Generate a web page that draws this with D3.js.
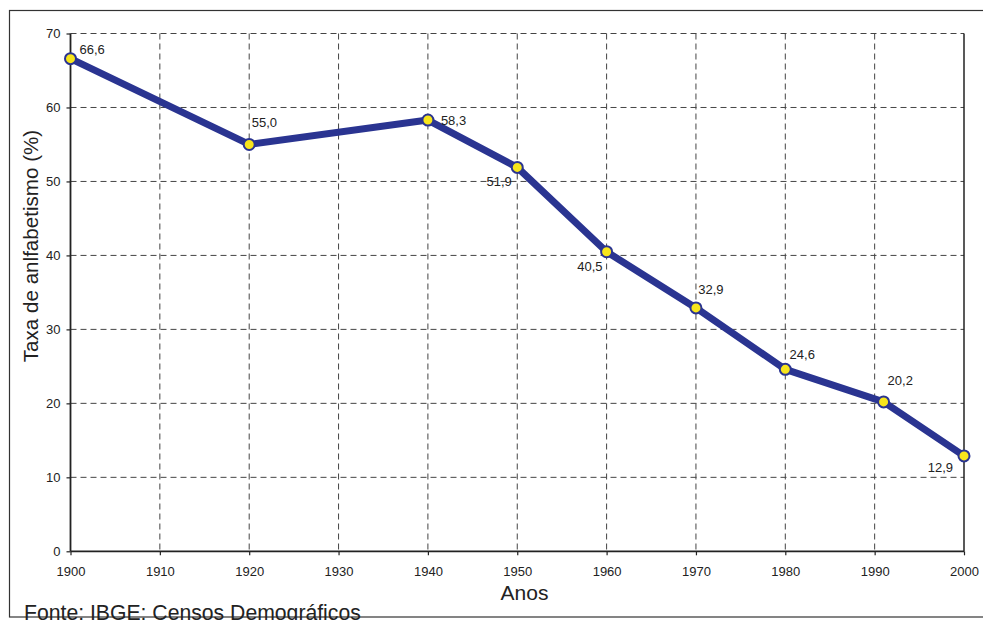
<!DOCTYPE html>
<html><head><meta charset="utf-8">
<script src="https://cdn.jsdelivr.net/npm/d3@7"></script>
<style>body{margin:0;background:#fff;}svg{display:block;font-family:"Liberation Sans",Arial,sans-serif;}</style>
</head><body>
<svg id="c" width="983" height="620"></svg>
<script>
const years = [1900, 1920, 1940, 1950, 1960, 1970, 1980, 1991, 2000];
const values = [66.6, 55.0, 58.3, 51.9, 40.5, 32.9, 24.6, 20.2, 12.9];
const labels = ["66,6", "55,0", "58,3", "51,9", "40,5", "32,9", "24,6", "20,2", "12,9"];
const xTicks = [1900, 1910, 1920, 1930, 1940, 1950, 1960, 1970, 1980, 1990, 2000];
const yTicks = [0, 10, 20, 30, 40, 50, 60, 70];

// label placement (layout, not data): [dx, dy, anchor]
const labelPlace = [[9, -5, "start"], [2.5, -17, "start"], [13, 5, "start"], [-5.5, 19, "end"],
  [-4, 19.5, "end"], [2.3, -14, "start"], [4.3, -10.7, "start"], [4, -17, "start"], [-11, 16, "end"]];

const svg = d3.select("#c");
const L = 70.5, R = 964, T = 33.5, B = 551.3;
const x = d3.scaleLinear().domain([1900, 2000]).range([L, R]);
const y = d3.scaleLinear().domain([0, 70]).range([B, T]);

// outer frame
svg.append("rect").attr("x", 9.5).attr("y", 10.5).attr("width", 1000).attr("height", 606.5)
  .attr("fill", "none").attr("stroke", "#333").attr("stroke-width", 1.2);

// grid
const g = svg.append("g");
g.selectAll(".vg").data(xTicks.filter(d => d > 1900 && d < 2000)).join("line")
  .attr("x1", d => x(d)).attr("x2", d => x(d)).attr("y1", T).attr("y2", B)
  .attr("stroke", "#444").attr("stroke-width", 1).attr("stroke-dasharray", "6,4");
g.selectAll(".hg").data(yTicks.filter(d => d > 0)).join("line")
  .attr("x1", L).attr("x2", R).attr("y1", d => y(d)).attr("y2", d => y(d))
  .attr("stroke", "#444").attr("stroke-width", 1).attr("stroke-dasharray", "6,4");

// axes
const xa = svg.append("g").attr("transform", `translate(0,${B})`)
  .call(d3.axisBottom(x).tickValues(xTicks).tickFormat(d3.format("d")).tickSize(4).tickPadding(11));
const ya = svg.append("g").attr("transform", `translate(${L},0)`)
  .call(d3.axisLeft(y).tickValues(yTicks).tickSize(4).tickPadding(6));
[xa, ya].forEach(a => {
  a.select(".domain").remove();
  a.selectAll("line").attr("stroke", "#222").attr("stroke-width", 1.2);
  a.selectAll("text").attr("font-size", 13).attr("fill", "#222").attr("font-family", "Liberation Sans, Arial, sans-serif");
});
// axis lines (left, bottom, right solid)
svg.append("line").attr("x1", L).attr("x2", L).attr("y1", T).attr("y2", B).attr("stroke", "#222").attr("stroke-width", 1.8);
svg.append("line").attr("x1", L).attr("x2", R).attr("y1", B).attr("y2", B).attr("stroke", "#222").attr("stroke-width", 1.8);
svg.append("line").attr("x1", R).attr("x2", R).attr("y1", T).attr("y2", B).attr("stroke", "#222").attr("stroke-width", 1.5);

// line
const data = years.map((yr, i) => ({yr, v: values[i], lab: labels[i], p: labelPlace[i]}));
svg.append("path").datum(data)
  .attr("d", d3.line().x(d => x(d.yr)).y(d => y(d.v)))
  .attr("fill", "none").attr("stroke", "#2a3491").attr("stroke-width", 7).attr("stroke-linejoin", "round");
svg.selectAll(".pt").data(data).join("circle")
  .attr("cx", d => x(d.yr)).attr("cy", d => y(d.v)).attr("r", 5.5)
  .attr("fill", "#f7e51c").attr("stroke", "#2a3491").attr("stroke-width", 2);

// labels
svg.selectAll(".lb").data(data).join("text")
  .attr("x", d => x(d.yr) + d.p[0]).attr("y", d => y(d.v) + d.p[1])
  .attr("text-anchor", d => d.p[2])
  .attr("font-size", 13).attr("fill", "#222").text(d => d.lab);

// titles
svg.append("text").attr("x", 524.5).attr("y", 599.5).attr("text-anchor", "middle")
  .attr("font-size", 21).attr("fill", "#222").text("Anos");
svg.append("text").attr("transform", "translate(37.5,246) rotate(-90)").attr("text-anchor", "middle")
  .attr("font-size", 20.6).attr("fill", "#222").text("Taxa de anlfabetismo (%)");
svg.append("text").attr("x", 24).attr("y", 620)
  .attr("font-size", 21.2).attr("fill", "#222").text("Fonte: IBGE: Censos Demográficos");
</script>
</body></html>
